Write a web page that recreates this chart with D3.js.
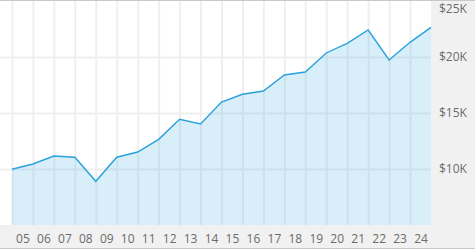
<!DOCTYPE html>
<html><head><meta charset="utf-8">
<script src="https://cdn.jsdelivr.net/npm/d3@7"></script>
<style>
html,body{margin:0;padding:0;background:#fff;}
svg{display:block;}
.lbl text{font-family:"Open Sans",sans-serif;font-size:12px;fill:#6b6b6b;}
</style></head>
<body><svg id="c" width="475" height="250"></svg>
<script>
const years = [2004,2005,2006,2007,2008,2009,2010,2011,2012,2013,2014,2015,2016,2017,2018,2019,2020,2021,2022,2023,2024];
const values = [9980,10450,11160,11050,8900,11050,11520,12650,14440,14020,15980,16670,16960,18390,18660,20360,21220,22410,19730,21310,22650];
const xLabels = ["05","06","07","08","09","10","11","12","13","14","15","16","17","18","19","20","21","22","23","24"];
const yTicks = [10000,15000,20000,25000];
const yLabels = ["$10K","$15K","$20K","$25K"];

const W=475,H=250, L=0, R=431, T=1, B=225;
const svg=d3.select("#c");
const x=d3.scaleLinear().domain([2004,2024]).range([12,R]);
const y=d3.scaleLinear().domain([5000,25000]).range([B,T]);

// backgrounds
svg.append("rect").attr("x",0).attr("y",0).attr("width",W).attr("height",249).attr("fill","#f1f1f1");
svg.append("rect").attr("x",L).attr("y",1).attr("width",R-L).attr("height",B-1).attr("fill","#fff");

// vertical grid
const gx=svg.append("g").attr("transform",`translate(0,${B})`)
  .call(d3.axisBottom(x).tickValues(years.slice(0,-1)).tickSize(-(B-T)).tickFormat(""));
gx.select(".domain").remove();
gx.selectAll("line").attr("stroke","#efefef").attr("stroke-width",2);
// horizontal grid
const gy=svg.append("g").attr("transform",`translate(${R},0)`)
  .call(d3.axisLeft(y).tickValues(yTicks.slice(0,-1)).tickSize(R-L).tickFormat(""));
gy.select(".domain").remove();
gy.selectAll("line").attr("stroke","#efefef").attr("stroke-width",2);

const data=years.map((d,i)=>({yr:d,v:values[i]}));
svg.append("path").datum(data)
  .attr("d",d3.area().x(d=>x(d.yr)).y0(B).y1(d=>y(d.v)))
  .attr("fill","rgb(41,163,224)").attr("fill-opacity",0.18);
svg.append("path").datum(data)
  .attr("d",d3.line().x(d=>x(d.yr)).y(d=>y(d.v)))
  .attr("fill","none").attr("stroke","#2aa2de").attr("stroke-width",1.4);

// x labels
const xl=svg.append("g").attr("class","lbl").attr("transform",`translate(0,${B})`)
  .call(d3.axisBottom(x).tickValues(years.slice(0,-1).map(d=>d+0.5)).tickSize(0).tickPadding(9)
    .tickFormat((d,i)=>xLabels[i]));
xl.select(".domain").remove();
// y labels
const yl=svg.append("g").attr("class","lbl").attr("transform",`translate(${R},0)`)
  .call(d3.axisRight(y).tickValues(yTicks).tickSize(0).tickPadding(8).tickFormat((d,i)=>yLabels[i]));
yl.select(".domain").remove();
yl.selectAll(".tick").filter(d=>d===25000).attr("transform",`translate(0,${y(25000)+8})`);

// borders
svg.append("line").attr("x1",0).attr("x2",W).attr("y1",0.5).attr("y2",0.5).attr("stroke","#c8c8c8");
svg.append("line").attr("x1",0).attr("x2",W).attr("y1",248.5).attr("y2",248.5).attr("stroke","#c8c8c8");
</script></body></html>
